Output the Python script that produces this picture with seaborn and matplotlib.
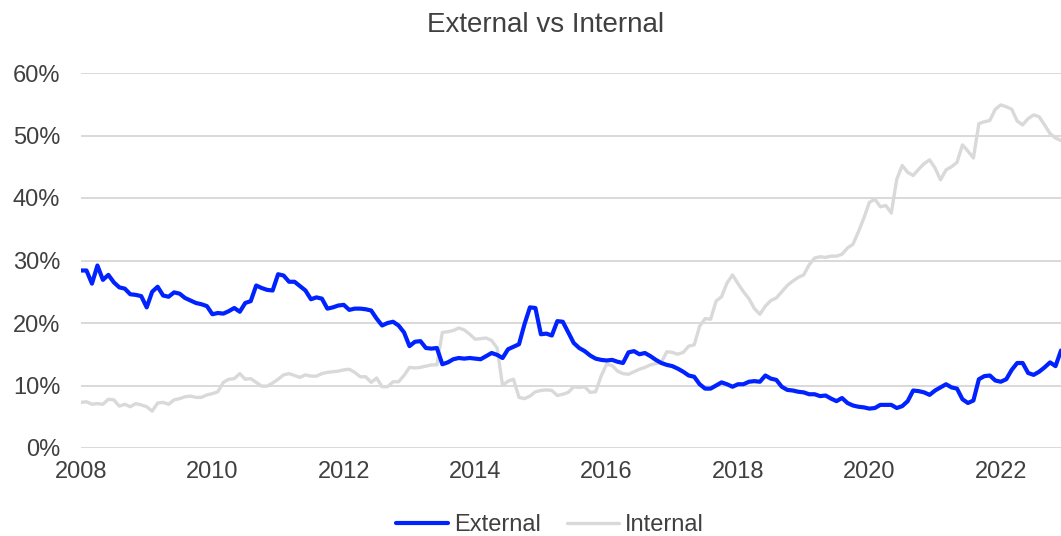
import numpy as np
import pandas as pd
import seaborn as sns
from matplotlib import pyplot as plt
from matplotlib.ticker import FuncFormatter

# monthly shares (%), Jan 2008 .. Dec 2022
EXTERNAL = [
    28.4, 28.4, 26.3, 29.2, 26.9, 27.7, 26.5, 25.7, 25.5, 24.6, 24.5, 24.3,
    22.5, 25.0, 25.8, 24.4, 24.2, 24.9, 24.7, 24.0, 23.6, 23.2, 23.0, 22.7,
    21.4, 21.6, 21.5, 21.9, 22.4, 21.8, 23.2, 23.5, 26.0, 25.6, 25.3, 25.2,
    27.8, 27.6, 26.6, 26.6, 25.9, 25.2, 23.8, 24.1, 23.9, 22.3, 22.5, 22.8,
    22.9, 22.1, 22.3, 22.3, 22.2, 22.0, 20.7, 19.6, 20.0, 20.2, 19.6, 18.5,
    16.3, 17.0, 17.1, 16.0, 15.9, 16.0, 13.4, 13.7, 14.2, 14.4, 14.3, 14.4,
    14.3, 14.2, 14.7, 15.2, 14.9, 14.4, 15.8, 16.2, 16.6, 19.8, 22.5, 22.4,
    18.2, 18.3, 18.0, 20.3, 20.2, 18.5, 16.8, 16.0, 15.5, 14.8, 14.3, 14.1,
    14.0, 14.1, 13.8, 13.6, 15.3, 15.5, 15.0, 15.2, 14.7, 14.1, 13.6, 13.3,
    13.1, 12.7, 12.2, 11.6, 11.4, 10.2, 9.5, 9.5, 10.0, 10.5, 10.2, 9.8,
    10.2, 10.2, 10.6, 10.7, 10.6, 11.6, 11.1, 10.9, 9.8, 9.3, 9.2, 9.0,
    8.9, 8.6, 8.6, 8.3, 8.4, 7.9, 7.5, 8.0, 7.2, 6.8, 6.6, 6.5,
    6.3, 6.4, 6.9, 6.9, 6.9, 6.4, 6.7, 7.5, 9.2, 9.1, 8.9, 8.5,
    9.2, 9.7, 10.2, 9.7, 9.5, 7.8, 7.2, 7.6, 11.0, 11.5, 11.6, 10.8,
    10.6, 11.0, 12.5, 13.6, 13.6, 12.0, 11.7, 12.2, 12.9, 13.7, 13.1, 15.6,
]
INTERNAL = [
    7.3, 7.4, 7.0, 7.1, 7.0, 7.8, 7.7, 6.7, 7.0, 6.6, 7.1, 6.9,
    6.6, 5.9, 7.2, 7.3, 7.0, 7.7, 7.9, 8.2, 8.3, 8.1, 8.1, 8.5,
    8.7, 9.0, 10.5, 11.0, 11.1, 11.9, 11.0, 11.1, 10.5, 9.9, 9.9, 10.4,
    11.0, 11.7, 11.9, 11.6, 11.3, 11.7, 11.5, 11.5, 11.9, 12.1, 12.2, 12.3,
    12.5, 12.6, 12.1, 11.4, 11.4, 10.5, 11.2, 9.8, 9.8, 10.6, 10.6, 11.6,
    12.9, 12.8, 12.9, 13.1, 13.3, 13.3, 18.5, 18.6, 18.8, 19.2, 18.9, 18.2,
    17.4, 17.5, 17.6, 17.2, 16.0, 10.0, 10.7, 11.0, 8.1, 7.9, 8.3, 9.0,
    9.2, 9.3, 9.2, 8.4, 8.6, 8.9, 9.8, 9.7, 9.8, 8.9, 9.0, 11.5,
    13.4, 13.2, 12.3, 11.9, 11.8, 12.2, 12.6, 12.9, 13.3, 13.5, 13.7, 15.4,
    15.3, 15.0, 15.3, 16.3, 16.5, 19.5, 20.7, 20.6, 23.5, 24.2, 26.4, 27.7,
    26.3, 25.0, 23.9, 22.3, 21.4, 22.7, 23.6, 24.0, 25.0, 26.0, 26.7, 27.3,
    27.7, 29.3, 30.4, 30.6, 30.5, 30.7, 30.7, 31.0, 32.0, 32.6, 34.6, 36.8,
    39.3, 39.8, 38.6, 38.8, 37.6, 43.0, 45.2, 44.1, 43.6, 44.6, 45.5, 46.1,
    44.8, 42.9, 44.5, 45.0, 45.7, 48.5, 47.5, 46.4, 51.9, 52.2, 52.4, 54.2,
    54.9, 54.6, 54.2, 52.3, 51.7, 52.7, 53.3, 53.0, 51.7, 50.3, 49.6, 49.2,
]
START_YEAR = 2008
YEAR_TICKS = [2008, 2010, 2012, 2014, 2016, 2018, 2020, 2022]
PCT_TICKS = [0, 10, 20, 30, 40, 50, 60]

TEXT = "#404040"
BLUE, GREY = "#0022ff", "#d9d9d9"
WIDTHS = {BLUE: 3.0, GREY: 2.4}

time = START_YEAR + np.arange(len(EXTERNAL)) / 12
df = pd.DataFrame({
    "time": np.concatenate([time, time]),
    "share": EXTERNAL + INTERNAL,
    "series": ["External"] * len(EXTERNAL) + ["Internal"] * len(INTERNAL),
})

sns.set_style("white")
plt.rcParams["font.family"] = ["Liberation Sans", "DejaVu Sans"]

fig = plt.figure(figsize=(10.61, 5.36), dpi=100)
ax = fig.add_axes([81 / 1061, 88 / 536, 980 / 1061, 375 / 536])

# grey drawn first so blue sits on top
sns.lineplot(
    data=df, x="time", y="share", hue="series", ax=ax,
    palette={"External": BLUE, "Internal": GREY},
    hue_order=["Internal", "External"],
)
for line in ax.lines:
    if line.get_color() in WIDTHS:
        line.set_linewidth(WIDTHS[line.get_color()])
        line.set_solid_joinstyle("round")

ax.set_xlim(time[0], time[-1])
ax.set_ylim(0, 60)
ax.set_xticks(YEAR_TICKS)
ax.set_yticks(PCT_TICKS)
ax.yaxis.set_major_formatter(FuncFormatter(lambda v, _: f"{v:.0f}%"))
ax.grid(axis="y", color=GREY, linewidth=1.4)
ax.set_axisbelow(True)
for s in ax.spines.values():
    s.set_visible(False)
ax.tick_params(axis="both", length=0, labelsize=17, colors=TEXT)
ax.tick_params(axis="y", pad=15)
ax.tick_params(axis="x", pad=9)
ax.set_xlabel("")
ax.set_ylabel("")

handles, labels = ax.get_legend_handles_labels()
order = [labels.index("External"), labels.index("Internal")]
ax.get_legend().remove()
leg = fig.legend(
    [handles[i] for i in order], [labels[i] for i in order],
    loc="center", bbox_to_anchor=(550 / 1061, 1 - 525 / 536), ncol=2,
    frameon=False, fontsize=17, handlelength=2.2, handletextpad=0.25,
    columnspacing=1.1, labelcolor=TEXT,
)
for h in leg.legend_handles:
    h.set_linewidth(WIDTHS.get(h.get_color(), 2.4))

fig.text(546 / 1061, 1 - 25 / 536, "External vs Internal", ha="center",
         va="center", fontsize=20, color=TEXT)

fig.savefig("out.png", dpi=100)
